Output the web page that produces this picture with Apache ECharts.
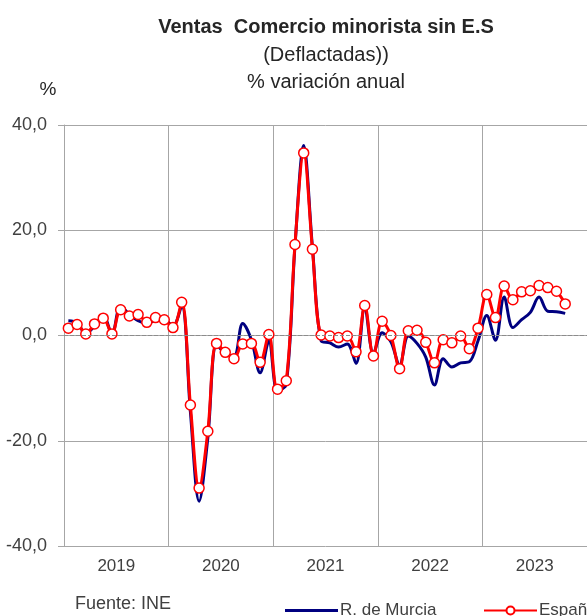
<!DOCTYPE html>
<html>
<head>
<meta charset="utf-8">
<script src="https://cdn.jsdelivr.net/npm/echarts@6/dist/echarts.min.js"></script>
<style>
html,body{margin:0;padding:0;background:#fff;}
#chart{width:587px;height:616px;}
</style>
</head>
<body>
<div id="chart"></div>
<script>
const years = ['2019', '2020', '2021', '2022', '2023'];
const monthNames = ['ene','feb','mar','abr','may','jun','jul','ago','sep','oct','nov','dic'];
const yTicks = [-40, -20, 0, 20, 40];

const murcia = [
  2.8, 2.4, 0.4, 1.8, 3.8, 0.3, 5.6, 4.0, 2.8, 2.3, 2.9, 3.0,
  1.8, 5.7, -14.5, -31.5, -19.5, -1.8, -3.3, -4.0, 2.3, -0.8, -7.1, -1.1,
  -10.5, -9.3, 17.0, 36.1, 16.8, -1.0, -1.4, -2.2, -1.6, -5.3, 5.4, -3.4,
  0.5, -1.2, -5.6, -0.1, -1.5, -4.1, -9.4, -4.4, -6.0, -5.2, -5.0, -1.0,
  3.8, -0.9, 7.3, 1.5, 3.0, 4.4, 7.3, 4.6, 4.5, 4.2
];
const espana = [
  1.4, 2.1, 0.3, 2.2, 3.3, 0.3, 4.9, 3.7, 4.0, 2.5, 3.4, 3.0,
  1.5, 6.3, -13.2, -29.0, -18.2, -1.5, -3.2, -4.4, -1.6, -1.5, -5.1, 0.2,
  -10.2, -8.6, 17.3, 34.7, 16.4, 0.1, -0.1, -0.4, -0.1, -3.1, 5.7, -3.9,
  2.7, 0.0, -6.3, 0.9, 1.0, -1.3, -5.2, -0.8, -1.4, -0.1, -2.5, 1.4,
  7.8, 3.4, 9.4, 6.8, 8.3, 8.5, 9.5, 9.1, 8.4, 6.0
];

const months = [];
years.forEach(y => monthNames.forEach(m => months.push(m + '-' + y)));

const FONT = 'Liberation Sans';
const TXT = '#404040';
const GRID = '#a6a6a6';
const NONE = 'rgba(0,0,0,0)';

const chart = echarts.init(document.getElementById('chart'), null, {renderer: 'canvas'});
chart.setOption({
  animation: false,
  backgroundColor: '#ffffff',
  textStyle: {fontFamily: FONT},
  grid: {left: 64, top: 125, width: 529, height: 421, containLabel: false},
  graphic: [
    {type: 'text', style: {text: 'Ventas  Comercio minorista sin E.S', x: 326, y: 27, textAlign: 'center', textVerticalAlign: 'middle', font: 'bold 20px "Liberation Sans"', fill: '#262626'}},
    {type: 'text', style: {text: '(Deflactadas))', x: 326, y: 55, textAlign: 'center', textVerticalAlign: 'middle', font: '20px "Liberation Sans"', fill: '#262626'}},
    {type: 'text', style: {text: '% variación anual', x: 326, y: 82, textAlign: 'center', textVerticalAlign: 'middle', font: '20px "Liberation Sans"', fill: '#262626'}},
    {type: 'text', style: {text: '%', x: 48, y: 90, textAlign: 'center', textVerticalAlign: 'middle', font: '19px "Liberation Sans"', fill: '#262626'}},
    {type: 'text', style: {text: 'Fuente: INE', x: 75, y: 604, textAlign: 'left', textVerticalAlign: 'middle', font: '18px "Liberation Sans"', fill: TXT}}
  ],
  legend: [
    {
      left: 280, top: 597,
      icon: 'rect', itemWidth: 53, itemHeight: 3,
      textStyle: {fontSize: 17, color: TXT, fontFamily: FONT, padding: [0, 0, 0, -3]},
      data: ['R. de Murcia']
    },
    {
      left: 478, top: 597,
      itemWidth: 53, itemHeight: 10,
      textStyle: {fontSize: 17, color: TXT, fontFamily: FONT, padding: [0, 0, 0, -3]},
      data: ['España']
    }
  ],
  xAxis: [
    {
      type: 'category', data: months, boundaryGap: true,
      axisLine: {show: true, lineStyle: {color: GRID, width: 1}},
      axisTick: {show: false},
      axisLabel: {show: false},
      splitLine: {show: true, interval: 11, lineStyle: {color: GRID, width: 1}}
    },
    {
      type: 'category', data: years, boundaryGap: true, position: 'bottom',
      axisLine: {show: false}, axisTick: {show: false}, splitLine: {show: false},
      axisLabel: {color: TXT, fontSize: 17, margin: 12, fontFamily: FONT}
    }
  ],
  yAxis: [
    {
      type: 'value', min: yTicks[0], max: yTicks[yTicks.length - 1], interval: 20,
      axisLine: {show: true, lineStyle: {color: GRID}},
      axisTick: {show: true, length: 6, lineStyle: {color: GRID}},
      axisLabel: {color: TXT, fontSize: 18, margin: 17, fontFamily: FONT,
        formatter: v => v.toFixed(1).replace('.', ',')},
      splitLine: {show: true, lineStyle: {color: [GRID, GRID, NONE, GRID, GRID], width: 1}}
    }
  ],
  series: [
    {
      name: 'R. de Murcia', type: 'line', data: murcia, xAxisIndex: 0, yAxisIndex: 0,
      smooth: 0.35, symbol: 'none',
      lineStyle: {color: '#000080', width: 3},
      itemStyle: {color: '#000080'},
      z: 2
    },
    {
      name: 'España', type: 'line', data: espana, xAxisIndex: 0, yAxisIndex: 0,
      smooth: 0.35, symbol: 'circle', symbolSize: 10, showSymbol: true, showAllSymbol: true,
      lineStyle: {color: '#ff0000', width: 3},
      itemStyle: {color: '#ffffff', borderColor: '#ff0000', borderWidth: 1.5},
      markLine: {
        silent: true, symbol: ['none', 'none'], animation: false,
        label: {show: false},
        lineStyle: {color: '#8c8c8c', type: 'dashed', width: 1},
        emphasis: {disabled: true},
        data: [{yAxis: 0}]
      },
      z: 3
    }
  ]
});
</script>
</body>
</html>
